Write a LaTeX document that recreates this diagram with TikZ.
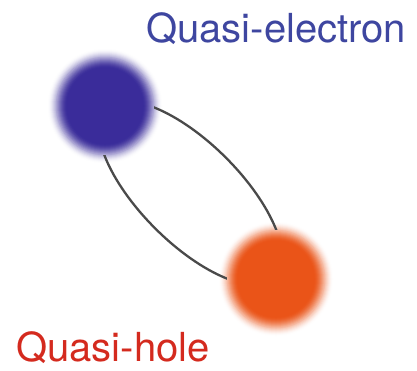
\documentclass[tikz,border=0pt]{standalone}
\usepackage{fontspec}
\setmainfont{TeX Gyre Heros}
\usetikzlibrary{shapes.geometric}

\definecolor{elecblue}{RGB}{58,44,154}
\definecolor{holeorange}{RGB}{234,84,24}
\definecolor{electext}{RGB}{62,70,160}
\definecolor{holetext}{RGB}{212,42,30}
\definecolor{bondgray}{RGB}{74,74,74}

\tikzset{
	ball/.style={circle, minimum size=114pt, inner sep=0pt},
	tag/.style={anchor=base west, inner sep=0pt, font=\fontsize{40}{48}\selectfont}
}

% soft particle: rings #3..#4 of 20, from white to full colour
\newcommand{\softball}[4]{%
	\foreach \i [evaluate=\i as \p using {100*(\i/20)*(\i/20)*(3-2*\i/20)}, evaluate=\i as \rad using {58-\i}] in {#3,...,#4}
		\fill[#2!\p!white] (#1) circle[radius=\rad pt];
}

\begin{document}
\begin{tikzpicture}[x=1pt,y=-1pt]
	\useasboundingbox (0,0) rectangle (417,370);
	\coordinate (mid) at (190.5,193);
	\node[ball] (electron) at (105,106) {};
	\node[ball] (hole) at (276,279) {};
	% soft edges first
	\softball{electron}{elecblue}{0}{20}
	\softball{hole}{holeorange}{0}{20}
	% the pair bond
	\node[draw=bondgray, line width=2.3pt, ellipse, rotate=-45, minimum width=240pt, minimum height=100pt, inner sep=0pt] (bond) at (mid) {};
	% cores over the bond
	\softball{electron}{elecblue}{9}{20}
	\softball{hole}{holeorange}{9}{20}
	% labels
	\node[tag, text=electext] (qe) at (146,42) {Quasi-electron};
	\node[tag, text=holetext] (qh) at (16,361) {Quasi-hole};
\end{tikzpicture}
\end{document}
